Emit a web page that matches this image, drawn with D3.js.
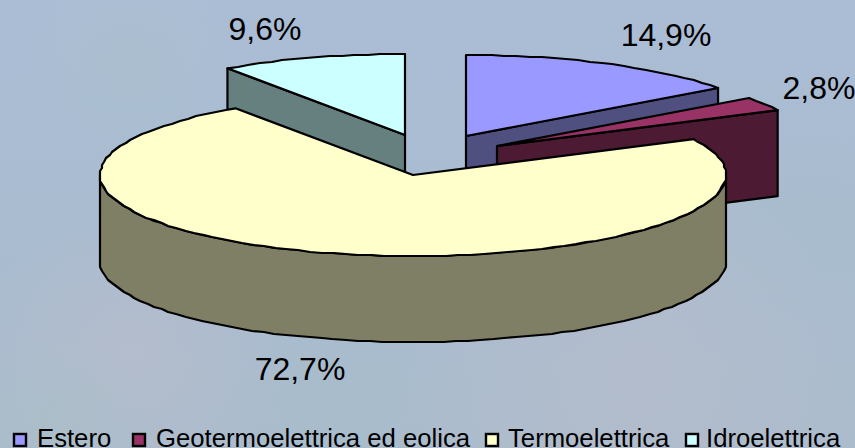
<!DOCTYPE html>
<html>
<head>
<meta charset="utf-8">
<script src="https://cdn.jsdelivr.net/npm/d3@7"></script>
<style>
    html, body { margin: 0; padding: 0; overflow: hidden; }
    svg { display: block; }
    text { font-family: "Liberation Sans", Arial, sans-serif; fill: #000; }
</style>
</head>
<body>
<script>
var categories = ['Estero', 'Geotermoelettrica ed eolica', 'Termoelettrica', 'Idroelettrica'];
var shares = [14.9, 2.8, 72.7, 9.6];

var topColors = ['#9999ff', '#993366', '#ffffcc', '#ccffff'];
var wallColors = ['#4f4f80', '#4d1a33', '#7f7f66', '#668080'];

// Layout only: apex of each exploded slice, label anchors, legend positions
var apexX = [466, 497, 413, 405];
var apexY = [136, 146, 175, 135];
var labelX = [666, 819, 265, 300];
var labelY = [46, 99, 40, 380];
var labelSlice = [0, 1, 3, 2];
var legendSwatchX = [14, 133, 486, 686];
var legendTextX = [37, 156, 508, 706];

var width = 855, height = 448;
var radiusX = 313, radiusY = 81, depth = 86;

var svg = d3.select('body').append('svg').attr('width', width).attr('height', height);
var defs = svg.append('defs');

// Background wash: blue-grey base with soft pinkish and bluish patches
var wash = defs.append('linearGradient').attr('id', 'wash')
    .attr('x1', 0).attr('y1', 0).attr('x2', 0).attr('y2', 1);
wash.append('stop').attr('offset', '0%').attr('stop-color', '#abbdd5');
wash.append('stop').attr('offset', '50%').attr('stop-color', '#a9bcd0');
wash.append('stop').attr('offset', '100%').attr('stop-color', '#abbccc');
svg.append('rect').attr('width', width).attr('height', height).attr('fill', 'url(#wash)');

function patch(id, cx, cy, r, color, opacity) {
    var g = defs.append('radialGradient').attr('id', id);
    g.append('stop').attr('offset', '0%').attr('stop-color', color).attr('stop-opacity', opacity);
    g.append('stop').attr('offset', '100%').attr('stop-color', color).attr('stop-opacity', 0);
    svg.append('circle').attr('cx', cx).attr('cy', cy).attr('r', r).attr('fill', 'url(#' + id + ')');
}
patch('pinkLeft', 130, 350, 150, '#bbbccb', 0.55);
patch('pinkRight', 640, 370, 240, '#bbbccb', 0.5);
patch('greenLeft', 60, 420, 90, '#a9bfc6', 0.5);
patch('greenTop', 130, 60, 110, '#aabfcc', 0.6);
patch('blueMid', 340, 400, 110, '#a6bccb', 0.7);
patch('greenRight', 810, 230, 110, '#a8bccb', 0.6);

var pie = d3.pie().sort(null).value(function (d) { return d; });
var arcs = pie(shares);

// Projection of the tilted pie: angle clockwise from 12 o'clock
var xScale = d3.scaleLinear().domain([-1, 1]).range([-radiusX, radiusX]);
var yScale = d3.scaleLinear().domain([-1, 1]).range([radiusY, -radiusY]);

// Whole pixel snapping gives the slightly stepped outline of the original export
function rim(i, a, drop) {
    return [apexX[i] + xScale(Math.sin(a)), apexY[i] + yScale(Math.cos(a)) + (drop || 0)];
}

function rimPoints(i, a0, a1, drop) {
    var n = Math.max(2, Math.round(Math.abs(a1 - a0) / 0.04));
    return d3.range(n + 1).map(function (k) {
        var p = rim(i, a0 + (a1 - a0) * k / n, drop);
        if (k == 0 || k == n) return p;
        return [Math.round(p[0] / 2) * 2, Math.round(p[1])];
    });
}

var line = d3.line();

function drawShape(points, fill) {
    svg.append('path')
        .attr('d', line(points) + 'Z')
        .attr('fill', fill)
        .attr('stroke', '#000')
        .attr('stroke-width', 2.2)
        .attr('stroke-linejoin', 'round');
}

function drawRadialWall(i, a) {
    var apex = [apexX[i], apexY[i]];
    var edge = rim(i, a);
    drawShape([apex, edge, [edge[0], edge[1] + depth], [apex[0], apex[1] + depth]], wallColors[i]);
}

function drawOuterWall(i, a0, a1) {
    var upper = rimPoints(i, a0, a1, 0);
    var lower = rimPoints(i, a1, a0, depth);
    drawShape(upper.concat(lower), wallColors[i]);
}

function drawTop(i) {
    var pts = rimPoints(i, arcs[i].startAngle, arcs[i].endAngle);
    pts.push([apexX[i], apexY[i]]);
    drawShape(pts, topColors[i]);
}

// Back to front: Idroelettrica, Estero, Geotermoelettrica, Termoelettrica
drawRadialWall(3, arcs[3].startAngle);
drawTop(3);
drawRadialWall(0, arcs[0].endAngle);
drawTop(0);
drawRadialWall(1, arcs[1].endAngle);
drawTop(1);
drawOuterWall(2, Math.PI / 2, 3 * Math.PI / 2);
drawTop(2);

// Percent labels
var fmt = d3.formatLocale({ decimal: ',', thousands: '.', grouping: [3], currency: ['', ''] }).format('.1f');
labelSlice.forEach(function (s, j) {
    svg.append('text')
        .attr('x', labelX[j])
        .attr('y', labelY[j])
        .attr('text-anchor', 'middle')
        .attr('font-size', 32)
        .text(fmt(shares[s]) + '%');
});

// Legend
categories.forEach(function (name, i) {
    svg.append('rect')
        .attr('x', legendSwatchX[i])
        .attr('y', 434)
        .attr('width', 12)
        .attr('height', 12)
        .attr('fill', topColors[i])
        .attr('stroke', '#000')
        .attr('stroke-width', 2.4);
    svg.append('text')
        .attr('x', legendTextX[i])
        .attr('y', 447)
        .attr('font-size', 25.7)
        .text(name);
});
</script>
</body>
</html>
